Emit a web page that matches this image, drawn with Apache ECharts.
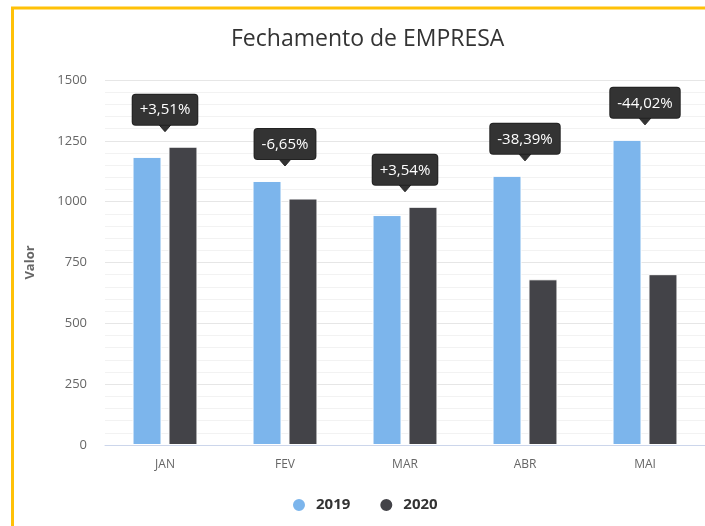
<!DOCTYPE html>
<html>
<head>
<meta charset="utf-8">
<script src="https://cdn.jsdelivr.net/npm/echarts@6/dist/echarts.min.js"></script>
<style>
    html, body { margin: 0; padding: 0; background: #fff; }
    #fechamento { width: 705px; height: 526px; }
</style>
</head>
<body>
<div id="fechamento"></div>
<script>
// dados
var meses = ['JAN', 'FEV', 'MAR', 'ABR', 'MAI'];
var valores2019 = [1184, 1085, 945, 1106, 1254];
var valores2020 = [1226, 1013, 979, 681, 702];
var variacoes = ['+3,51%', '-6,65%', '+3,54%', '-38,39%', '-44,02%'];
var ticksY = [0, 250, 500, 750, 1000, 1250, 1500];

var fonte = "'Open Sans', 'Noto Sans', sans-serif";

// ponto de cada balão: no maior valor do mês
var baloes = meses.map(function (m, i) {
    return [i, Math.max(valores2019[i], valores2020[i])];
});

var myChart = echarts.init(document.getElementById('fechamento'));

var option = {
    backgroundColor: '#fff',
    animation: false,
    textStyle: { fontFamily: fonte },
    title: {
        text: 'Fechamento de EMPRESA',
        left: 226,
        top: 23,
        textStyle: {
            fontWeight: 'normal',
            fontSize: 23,
            color: '#333',
            fontFamily: fonte
        }
    },
    legend: {
        bottom: 8,
        left: 286,
        icon: 'circle',
        itemWidth: 14,
        itemHeight: 14,
        itemGap: 28,
        textStyle: {
            fontSize: 15,
            fontWeight: 'bold',
            color: '#333',
            padding: [0, 0, 0, 5]
        },
        data: ['2019', '2020']
    },
    grid: {
        left: 105,
        right: -3,
        top: 80,
        bottom: 81
    },
    xAxis: {
        type: 'category',
        data: meses,
        axisLine: { lineStyle: { color: '#ccd6eb' } },
        axisTick: { alignWithLabel: false, length: 10, lineStyle: { color: '#ccd6eb' } },
        axisLabel: { color: '#666', fontSize: 12, margin: 14 }
    },
    yAxis: {
        type: 'value',
        min: ticksY[0],
        max: ticksY[ticksY.length - 1],
        interval: 250,
        name: 'Valor',
        nameLocation: 'middle',
        nameGap: 68,
        nameTextStyle: { color: '#666', fontSize: 13, fontWeight: 'bold' },
        axisLine: { show: false },
        axisTick: { show: false },
        axisLabel: {
            color: '#666',
            fontSize: 13,
            margin: 18,
            formatter: function (v) { return String(v); }
        },
        splitLine: { lineStyle: { color: '#e6e6e6' } },
        minorTick: { show: false, splitNumber: 5 },
        minorSplitLine: { show: true, lineStyle: { color: '#f2f2f2' } }
    },
    series: [
        {
            name: '2019',
            type: 'bar',
            data: valores2019,
            barWidth: 29,
            barGap: '24%',
            itemStyle: { color: '#7cb5ec', borderColor: '#fff', borderWidth: 1 }
        },
        {
            name: '2020',
            type: 'bar',
            data: valores2020,
            barWidth: 29,
            barGap: '24%',
            itemStyle: { color: '#434348', borderColor: '#fff', borderWidth: 1 }
        },
        {
            name: 'variacao',
            type: 'custom',
            data: baloes,
            z: 10,
            renderItem: function (params, api) {
                var p = api.coord([api.value(0), api.value(1)]);
                var ponta = p[1] - 15;
                var seta = 7;
                return {
                    type: 'group',
                    children: [
                        {
                            type: 'polygon',
                            shape: {
                                points: [
                                    [p[0] - 7, ponta - seta - 1],
                                    [p[0] + 7, ponta - seta - 1],
                                    [p[0], ponta]
                                ]
                            },
                            style: { fill: '#333', stroke: '#222', lineWidth: 1 }
                        },
                        {
                            type: 'text',
                            x: p[0],
                            y: ponta - seta,
                            style: {
                                text: variacoes[params.dataIndex],
                                fill: '#fff',
                                font: '15px ' + fonte,
                                align: 'center',
                                verticalAlign: 'bottom',
                                backgroundColor: '#333',
                                borderColor: '#222',
                                borderWidth: 1,
                                borderRadius: 3,
                                padding: [8, 7, 7, 7]
                            }
                        }
                    ]
                };
            }
        }
    ],
    graphic: [
        {
            type: 'line',
            shape: { x1: 12.5, y1: 7, x2: 12.5, y2: 526 },
            style: { stroke: '#ffc107', lineWidth: 3 },
            silent: true
        },
        {
            type: 'line',
            shape: { x1: 11, y1: 8, x2: 705, y2: 8 },
            style: { stroke: '#ffc107', lineWidth: 3 },
            silent: true
        }
    ]
};

myChart.setOption(option);
</script>
</body>
</html>
